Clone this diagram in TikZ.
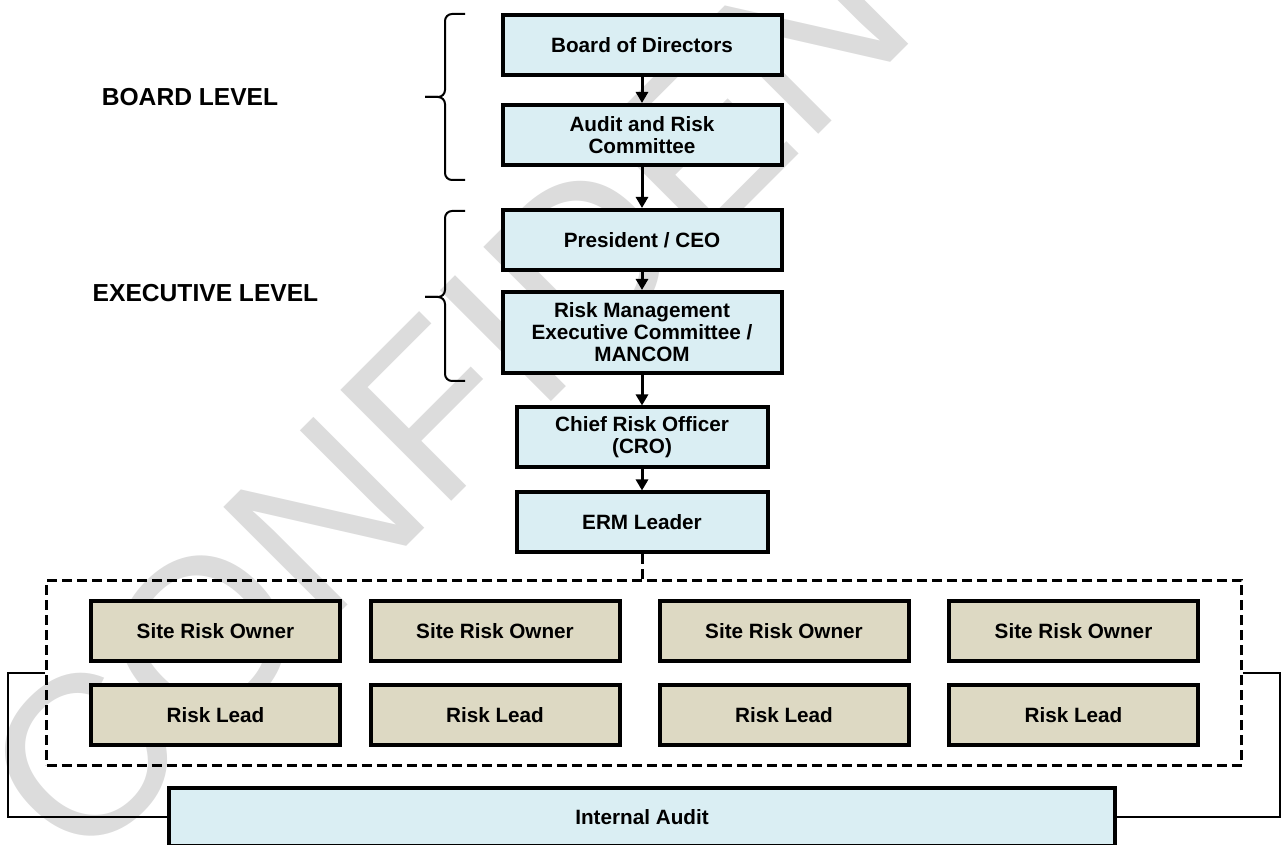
\documentclass[tikz,border=0pt]{standalone}
\usepackage{fontspec}
\setmainfont{Liberation Sans}
\usetikzlibrary{arrows.meta}
\definecolor{boxblue}{HTML}{DAEEF3}
\definecolor{boxtan}{HTML}{DDD9C3}
\definecolor{wmgray}{HTML}{DCDCDC}
\newcommand{\boxfont}{\fontsize{20.7}{22}\selectfont\bfseries}
\newcommand{\lvlfont}{\fontsize{24.6}{28}\selectfont\bfseries}

\begin{document}
\begin{tikzpicture}[x=1pt,y=1pt]

	\tikzstyle{office}=[fill=boxblue,draw=black,line width=4pt,
		minimum width=279pt,minimum height=60pt,
		align=center,font=\boxfont]
	\tikzstyle{siteowner}=[fill=boxtan,draw=black,line width=4pt,
		minimum width=249pt,minimum height=60pt,
		font=\boxfont]
	\tikzstyle{down}=[line width=3pt,-{Triangle[length=11pt,width=12pt]}]
	\tikzstyle{link}=[line width=2pt]
	\tikzstyle{bracket}=[line width=2pt,rounded corners=7pt]
	\tikzstyle{dotted line}=[line width=3pt,dash pattern=on 10pt off 5pt]

	\useasboundingbox (0,0) rectangle (1281,845);

	% watermark
	\node[wmgray,rotate=45,anchor=base west,inner sep=0pt,
		font=\fontsize{228}{228}\selectfont] (wm) at (80,-28) {CONFIDENTIAL};

	\node[office]	(bod)	at (642,799.5)	{Board of Directors};
	\node[office,below of=bod,node distance=89.5pt]	(arc)	{Audit and Risk\\Committee};
	\node[office,below of=arc,node distance=105pt]	(ceo)	{President / CEO};
	\node[office,below of=ceo,node distance=92.5pt,minimum height=81pt]	(rmec)
		{Risk Management\\Executive Committee /\\MANCOM};
	\node[office,below of=rmec,node distance=105pt,minimum width=251pt]	(cro)
		{Chief Risk Officer\\(CRO)};
	\node[office,below of=cro,node distance=85pt,minimum width=251pt]	(erm)	{ERM Leader};

	\node[draw,dotted line,minimum width=1195pt,minimum height=185pt]	(sites)	at (644,172) {};

	\node[siteowner]	(so1)	at (215.5,214)	{Site Risk Owner};
	\node[siteowner,right of=so1,node distance=279.5pt]	(so2)	{Site Risk Owner};
	\node[siteowner,right of=so2,node distance=289pt]	(so3)	{Site Risk Owner};
	\node[siteowner,right of=so3,node distance=289.5pt]	(so4)	{Site Risk Owner};
	\node[siteowner,below of=so1,node distance=84.5pt]	(rl1)	{Risk Lead};
	\node[siteowner,below of=so2,node distance=84.5pt]	(rl2)	{Risk Lead};
	\node[siteowner,below of=so3,node distance=84.5pt]	(rl3)	{Risk Lead};
	\node[siteowner,below of=so4,node distance=84.5pt]	(rl4)	{Risk Lead};

	\node[office,minimum width=946pt,minimum height=58pt]	(ia)	at (642,28)	{Internal Audit};

	% levels
	\draw[bracket] (465,831) -- (445,831) -- (445,748) -- (425,748);
	\draw[bracket] (465,665) -- (445,665) -- (445,748) -- (425,748);
	\draw[bracket] (465,634) -- (445,634) -- (445,548) -- (425,548);
	\draw[bracket] (465,464) -- (445,464) -- (445,548) -- (425,548);
	\node[font=\lvlfont]	(boardlvl)	at (190,748)	{BOARD LEVEL};
	\node[font=\lvlfont]	(execlvl)	at (205.5,552)	{EXECUTIVE LEVEL};

	\draw[down] (bod) -- (arc);
	\draw[down] (arc) -- (ceo);
	\draw[down] (ceo) -- (rmec);
	\draw[down] (rmec) -- (cro);
	\draw[down] (cro) -- (erm);
	\draw[dotted line] (erm) -- (erm |- sites.north);
	\draw[link] (ia.west) -| ([xshift=-37pt]sites.west) -- (sites.west);
	\draw[link] (ia.east) -| ([xshift=37pt]sites.east) -- (sites.east);

\end{tikzpicture}
\end{document}
